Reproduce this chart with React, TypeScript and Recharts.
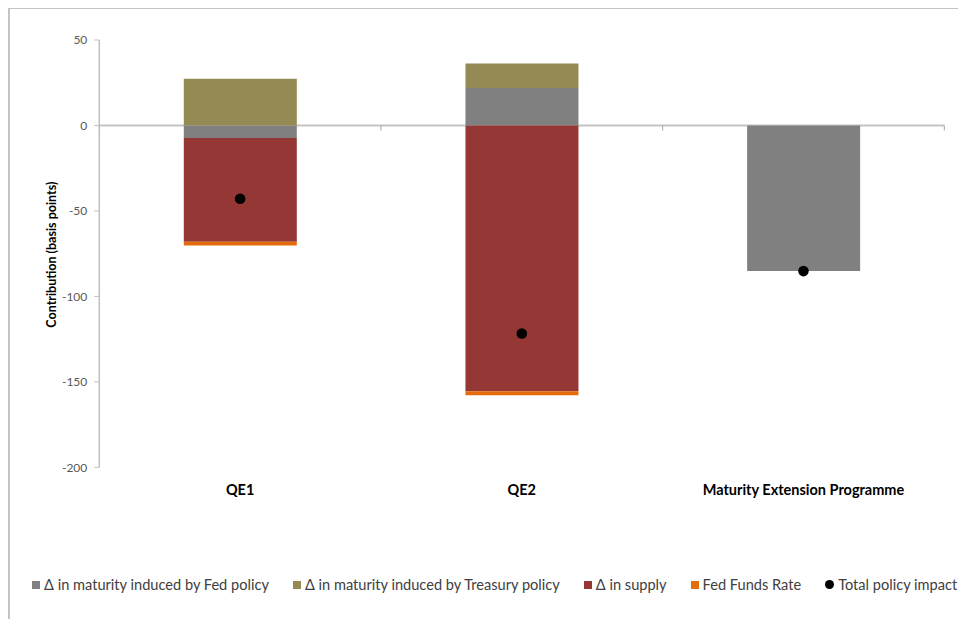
import React from 'react';
import {
  ComposedChart,
  Bar,
  Line,
  XAxis,
  YAxis,
  CartesianGrid,
  ReferenceLine,
  Legend,
} from 'recharts';

// Programmes on the category axis
const programmes = ['QE1', 'QE2', 'Maturity Extension Programme'];

// Contributions to the 10-year yield, basis points
const fedMaturity = [-7.4, 21.9, -85.2];
const treasuryMaturity = [27.4, 14.3, null];
const supply = [-60.6, -155.5, null];
const fedFunds = [-2.3, -2.4, null];
const totalImpact = [-42.9, -121.7, -85.2];

const yTicks = [-200, -150, -100, -50, 0, 50];

const seriesInfo = [
  { key: 'fedMaturity', label: '\u0394 in maturity induced by Fed policy', color: '#808080', shape: 'square' },
  { key: 'treasuryMaturity', label: '\u0394 in maturity induced by Treasury policy', color: '#948A54', shape: 'square' },
  { key: 'supply', label: '\u0394 in supply', color: '#953735', shape: 'square' },
  { key: 'fedFunds', label: 'Fed Funds Rate', color: '#E46C0A', shape: 'square' },
  { key: 'total', label: 'Total policy impact', color: '#000000', shape: 'circle' },
];

const data = programmes.map((name, i) => ({
  name,
  fedMaturity: fedMaturity[i],
  treasuryMaturity: treasuryMaturity[i],
  supply: supply[i],
  fedFunds: fedFunds[i],
  total: totalImpact[i],
}));

// Category-axis tick marks sit on band edges: the start of every band plus the end of the last one
const boundaryTicks = [
  ...programmes.map((p) => ({ cat: p, pos: 'start' as const })),
  { cat: programmes[programmes.length - 1], pos: 'end' as const },
];

const FONT = 'Lato, "Open Sans", sans-serif';

const LegendContent = () => (
  <div style={{ display: 'flex', alignItems: 'center', fontFamily: FONT, fontSize: 14.6, color: '#404040', whiteSpace: 'nowrap' }}>
    {seriesInfo.map((s) => (
      <div key={s.key} style={{ display: 'flex', alignItems: 'center', marginRight: 24 }}>
        <span
          style={{
            display: 'inline-block',
            width: s.shape === 'circle' ? 9 : 8,
            height: s.shape === 'circle' ? 9 : 8,
            borderRadius: s.shape === 'circle' ? '50%' : 0,
            background: s.color,
            marginRight: 4,
          }}
        />
        <span>{s.label}</span>
      </div>
    ))}
  </div>
);

const AxisTitle = (props: any) => {
  const vb = props.viewBox || { x: 0, y: 0, width: 0, height: 0 };
  const cx = 42;
  const cy = vb.y + vb.height / 2 + 1;
  return (
    <text
      x={cx}
      y={cy}
      transform={`rotate(-90, ${cx}, ${cy})`}
      textAnchor="middle"
      dominantBaseline="central"
      fontFamily={FONT}
      fontWeight="bold"
      fontSize={12.5}
      fill="#000"
    >
      Contribution (basis points)
    </text>
  );
};

export default function App() {
  return (
    <div
      style={{
        width: 948,
        height: 610,
        marginTop: -1,
        borderTop: '2px solid #c4c4c4',
        borderLeft: '2px solid #c4c4c4',
        background: '#fff',
      }}
    >
      <ComposedChart
        width={948}
        height={610}
        data={data}
        stackOffset="sign"
        barCategoryGap="30%"
        margin={{ top: 31, right: 13.7, left: 0, bottom: 121.7 }}
      >
        <CartesianGrid vertical={false} horizontalValues={[0]} stroke="#c4c4c4" strokeWidth={2} />
        <XAxis
          dataKey="name"
          height={30}
          axisLine={false}
          tickLine={false}
          tickMargin={11}
          interval={0}
          tick={{ fontFamily: FONT, fontWeight: 'bold', fontSize: 14.5, fill: '#000' }}
        />
        <YAxis
          width={89.3}
          domain={[-200, 50]}
          ticks={yTicks}
          interval={0}
          axisLine={{ stroke: '#bfbfbf', strokeWidth: 1.5 }}
          tickLine={{ stroke: '#bfbfbf' }}
          tickSize={5}
          tickMargin={7}
          tick={{ fontFamily: FONT, fontSize: 12, fill: '#595959' }}
          label={<AxisTitle />}
        />
        {boundaryTicks.map((b, i) => (
          <ReferenceLine
            key={i}
            position={b.pos}
            segment={[
              { x: b.cat, y: 0 },
              { x: b.cat, y: -3 },
            ]}
            stroke="#a6a6a6"
            strokeWidth={1}
          />
        ))}
        <Bar dataKey="fedMaturity" stackId="a" fill="#808080" isAnimationActive={false} />
        <Bar dataKey="treasuryMaturity" stackId="a" fill="#948A54" isAnimationActive={false} />
        <Bar dataKey="supply" stackId="a" fill="#953735" isAnimationActive={false} />
        <Bar dataKey="fedFunds" stackId="a" fill="#E46C0A" isAnimationActive={false} />
        <Line
          dataKey="total"
          stroke="none"
          dot={{ r: 5.3, fill: '#000', stroke: 'none' }}
          activeDot={false}
          isAnimationActive={false}
        />
        <Legend
          layout="horizontal"
          verticalAlign="middle"
          align="center"
          content={<LegendContent />}
          wrapperStyle={{ top: 567, left: 22, width: 'auto' }}
        />
      </ComposedChart>
    </div>
  );
}
